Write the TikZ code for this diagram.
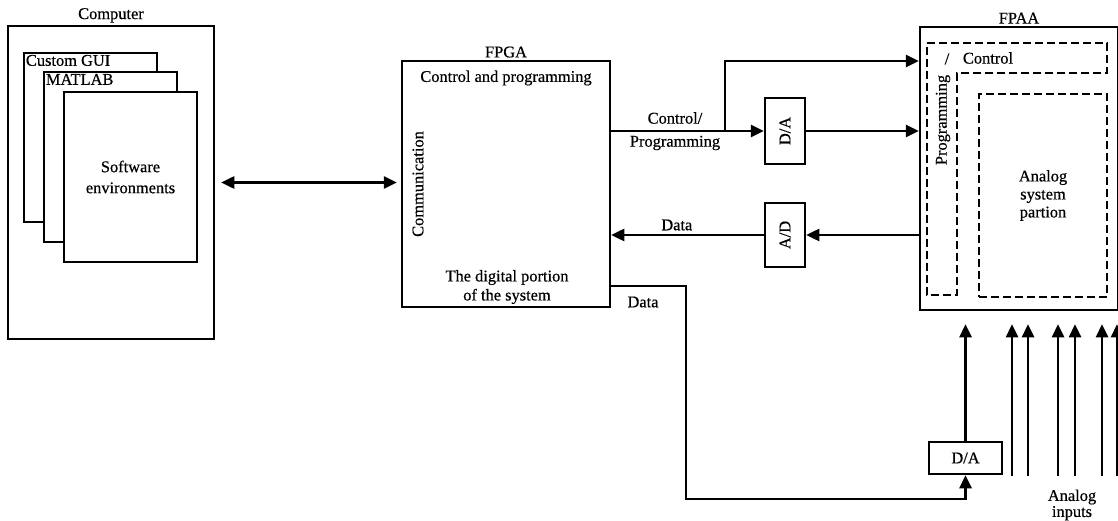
\documentclass[tikz,border=0pt]{standalone}
\usepackage{fontspec}
\setmainfont{Liberation Serif}[FakeBold=0.5]
\usetikzlibrary{arrows.meta}
\tikzset{
  box/.style={draw,line width=2.5pt,fill=white,inner sep=0pt},
  dbox/.style={draw,line width=2.5pt,dash pattern=on 8pt off 4pt},
  arr/.style={line width=2.5pt,-{Triangle[length=13pt,width=12pt]}},
  dblarr/.style={line width=2.5pt,{Triangle[length=13pt,width=12pt]}-{Triangle[length=13pt,width=12pt]}}
}
\begin{document}
\begin{tikzpicture}[x=1pt,y=-1pt,every node/.style={font=\fontsize{16.4}{19}\selectfont,align=center}]
\useasboundingbox (0,0) rectangle (1118,521);
\node[box,minimum width=206,minimum height=313] (comp) at (111,182.5) {};
\node[above,inner sep=2pt] (complbl) at (comp.north) {Computer};
\node[box,minimum width=133,minimum height=169] (gui) at (90.5,137.5) {};
\node[anchor=north west,inner sep=3pt] (guilbl) at (gui.north west) {Custom GUI};
\node[box,minimum width=133,minimum height=170] (matlab) at (110.5,157) {};
\node[anchor=north west,inner sep=3pt] (matlbl) at (matlab.north west) {MATLAB};
\node[box,minimum width=133,minimum height=170,font=\fontsize{16.4}{21}\selectfont] (sw) at (130.5,177) {Software\\environments};

\node[box,minimum width=208,minimum height=246] (fpga) at (506,184) {};
\node[above,inner sep=2pt] (fpgalbl) at (fpga.north) {FPGA};
\node (cp) at (506,78) {Control and programming};
\node[rotate=90] (comm) at (418,184) {Communication};
\node (digital) at (507,287) {The digital portion\\of the system};
\draw[dblarr,shorten <=6pt,shorten >=4pt] (comp.east) -- (comp.east -| fpga.west);

\node[box,minimum width=40,minimum height=66] (da1) at (785,131) {};
\node[rotate=90] (da1lbl) at (da1) {D/A};
\node[box,minimum width=40,minimum height=64] (ad) at (785,235) {};
\node[rotate=90] (adlbl) at (ad) {A/D};
\node[box,minimum width=73,minimum height=32] (da2) at (965.5,458) {D/A};

\node[box,minimum width=198,minimum height=283] (fpaa) at (1019,168.5) {};
\node[above,inner sep=2pt] (fpaalbl) at (fpaa.north) {FPAA};
\draw[dbox] (927,43) -- (1107,43) -- (1107,73) -- (957,73) -- (957,295) -- (927,295) -- cycle;
\node[dbox,minimum width=128,minimum height=203,font=\fontsize{16.4}{18}\selectfont] (ana) at (1043,195.5) {Analog\\system\\partion};
\node (slash) at (947,59) {/};
\node (ctrl) at (988,58) {Control};
\node[rotate=90] (prog) at (943,120) {Programming};

\coordinate (br) at (725,131);
\coordinate (turn) at (686,499);
\draw[arr] (fpga.east |- da1) -- (da1.west);
\node (cplbl) at (675,118) {Control/};
\node (pglbl) at (675,143) {Programming};
\draw[arr] (br) |- (fpaa.west |- 0,61);
\draw[arr] (da1.east) -- (da1.east -| fpaa.west);
\draw[arr] (ad.east -| fpaa.west) -- (ad.east);
\draw[arr] (ad.west) -- (ad.west -| fpga.east) node[pos=0.57,above] (datalbl) {Data};
\draw[arr] (fpga.east |- 0,286) -| (turn) -| (da2.south);
\node (data2lbl) at (643,302) {Data};
\draw[arr,shorten >=13pt] (da2.north) -- (da2.north |- fpaa.south);
\foreach \x [count=\i] in {1012,1028,1058,1075,1102,1117} {
  \coordinate (in\i) at (\x,476);
  \draw[arr,shorten >=13pt] (in\i) -- (in\i |- fpaa.south);
}
\node[font=\fontsize{16.4}{16}\selectfont] (inlbl) at (1072,505) {Analog\\inputs};
\end{tikzpicture}
\end{document}
